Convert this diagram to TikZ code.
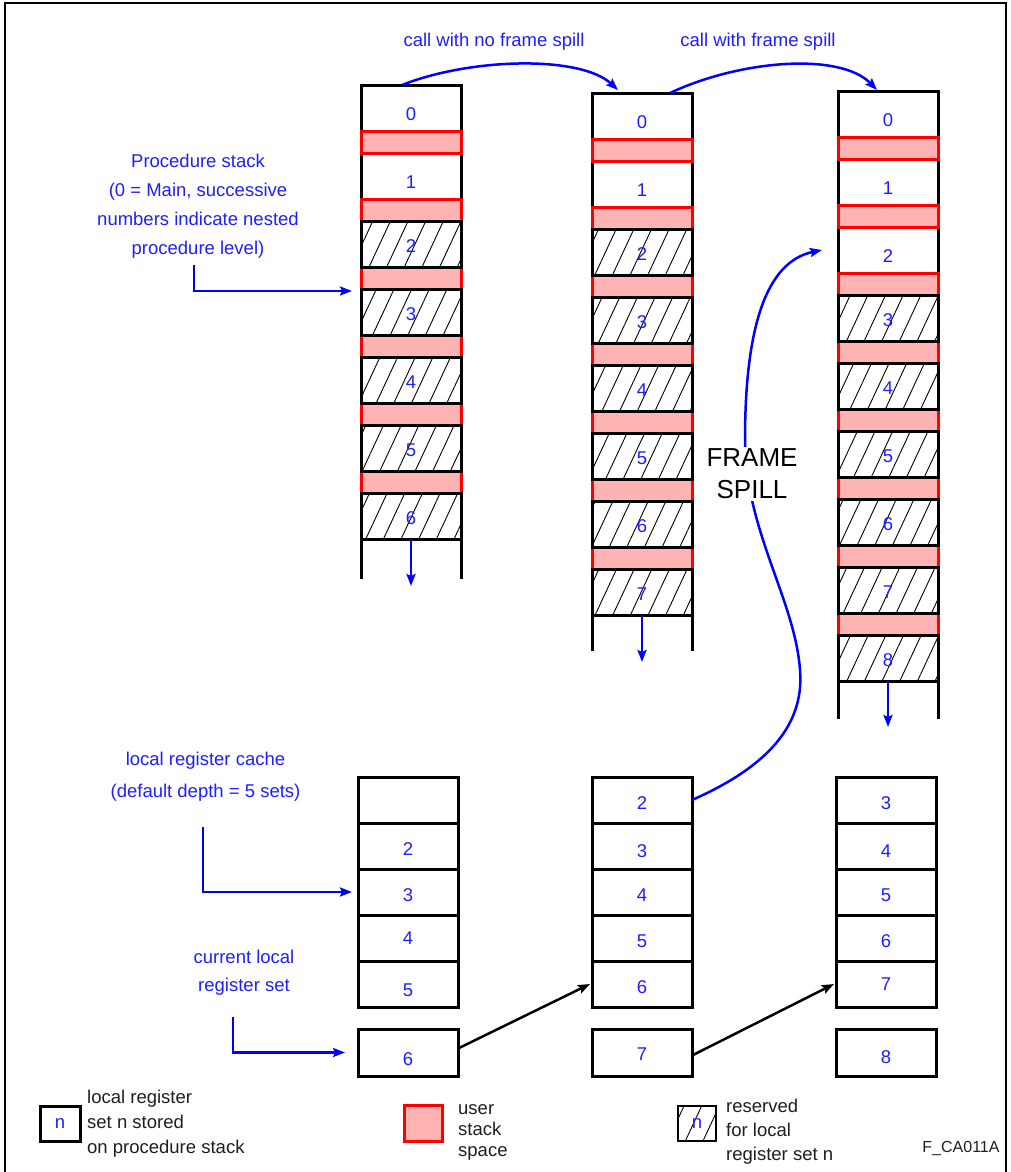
\documentclass[tikz,border=0pt]{standalone}
\usepackage{fontspec}
\setmainfont{Liberation Sans}
\usetikzlibrary{arrows.meta,patterns.meta,calc}
\definecolor{lblue}{RGB}{0,0,255}
\definecolor{tblue}{RGB}{30,30,255}
\definecolor{ustack}{RGB}{255,179,179}
\definecolor{ltxt}{RGB}{30,30,30}
\newcommand\drawstack[5]{%
  \foreach \k in {0,...,#5}{%
    \pgfmathsetmacro\yc{#3+68*\k+23}
    \node[box] (#1b\k) at (#2,\yc) {};
    \node[num] (#1n\k) at ([yshift=-6pt]#1b\k.center) {\k};
  }
  \foreach \k in {1,...,#4}{%
    \pgfmathsetmacro\yr{#3+68*\k-11}
    \node[rbox] (#1r\k) at (#2,\yr) {};
  }
  \pgfmathtruncatemacro\kstart{#5+1}
  \foreach \k in {\kstart,...,#4}{%
    \pgfmathsetmacro\yc{#3+68*\k+23}
    \node[hbox] (#1b\k) at (#2,\yc) {};
    \node[num] (#1n\k) at ([yshift=-2pt]#1b\k.center) {\k};
  }
}
\begin{document}
\begin{tikzpicture}[x=1pt,y=-1pt,
  box/.style={draw=black, line width=3pt, minimum width=100pt, minimum height=46pt, inner sep=0pt, outer sep=0pt},
  rbox/.style={draw=red, line width=3pt, fill=ustack, minimum width=100pt, minimum height=22pt, inner sep=0pt, outer sep=0pt},
  hbox/.style={box, pattern={Lines[angle=65,distance=16pt,line width=0.9pt]}},
  num/.style={text=tblue, font=\fontsize{18.5}{20}\selectfont, inner sep=0pt},
  tlabel/.style={text=tblue, align=center, inner sep=0pt},
  ltext/.style={text=ltxt, align=left, inner sep=0pt, anchor=west},
  barrow/.style={draw=lblue, line width=2.8pt, -{Stealth[length=12pt,width=9pt,inset=2pt]}},
  karrow/.style={draw=black, line width=2.5pt, -{Stealth[length=12pt,width=9pt,inset=2pt]}},
  side/.style={draw=black, line width=3pt}
]
\useasboundingbox (0,0) rectangle (1011,1172);
% frame
\draw[line width=2pt] (5,1172) -- (5,3.5) -- (1006,3.5) -- (1006,1172);

% procedure stacks
\drawstack{c1}{411}{85}{6}{1}
\drawstack{c2}{642}{93}{7}{1}
\drawstack{c3}{888}{91}{8}{2}

% open sides and downward arrows
\draw[side] (c1b6.south west) -- ++(0,40);
\draw[side] (c1b6.south east) -- ++(0,40);
\draw[barrow] (c1b6.south) -- ++(0,47);
\draw[side] (c2b7.south west) -- ++(0,36);
\draw[side] (c2b7.south east) -- ++(0,36);
\draw[barrow] (c2b7.south) -- ++(0,47);
\draw[side] (c3b8.south west) -- ++(0,38);
\draw[side] (c3b8.south east) -- ++(0,38);
\draw[barrow] (c3b8.south) -- ++(0,46);

% call arrows
\node[tlabel, font=\fontsize{18.5}{22}\selectfont] (call1) at (494,42) {call with no frame spill};
\node[tlabel, font=\fontsize{18.5}{22}\selectfont] (call2) at (758,42) {call with frame spill};
\draw[barrow, line width=2.5pt] ([xshift=-9pt]c1b0.north) .. controls (470,58) and (580,55) .. ([xshift=-24pt,yshift=3pt]c2b0.north);
\draw[barrow, line width=2.5pt] ([xshift=28pt]c2b0.north) .. controls (740,60) and (840,52) .. ([xshift=-11pt,yshift=1pt]c3b0.north);

% register cache stacks
\foreach \i/\t/\o in {0//3,1/2/3,2/3/3,3/4/0,4/5/6}{%
  \pgfmathsetmacro\yc{777+46*\i+23}
  \node[box] (r1b\i) at (408,\yc) {};
  \node[num] (r1n\i) at ([yshift={-\o*1pt}]r1b\i.center) {\t};
}
\foreach \i/\t/\o in {0/2/3,1/3/5,2/4/3,3/5/3,4/6/3}{%
  \pgfmathsetmacro\yc{777+46*\i+23}
  \node[box] (r2b\i) at (642,\yc) {};
  \node[num] (r2n\i) at ([yshift={-\o*1pt}]r2b\i.center) {\t};
}
\foreach \i/\t/\o in {0/3/3,1/4/5,2/5/3,3/6/3,4/7/0}{%
  \pgfmathsetmacro\yc{777+46*\i+23}
  \node[box] (r3b\i) at (886,\yc) {};
  \node[num] (r3n\i) at ([yshift={-\o*1pt}]r3b\i.center) {\t};
}
\node[box, minimum height=47pt] (r1c) at (408,1052.5) {};
\node[num] (r1cn) at ([yshift=-7pt]r1c.center) {6};
\node[box, minimum height=47pt] (r2c) at (642,1052.5) {};
\node[num] (r2cn) at ([yshift=-2pt]r2c.center) {7};
\node[box, minimum height=47pt] (r3c) at (886,1052.5) {};
\node[num] (r3cn) at ([yshift=-5pt]r3c.center) {8};

\draw[karrow] ([yshift=4pt]r1c.east) -- ([xshift=-2pt]r2b4.west);
\draw[karrow] ([yshift=-3pt]r2c.east) -- ([xshift=-2pt]r3b4.west);

% frame spill
\draw[barrow, line width=2.5pt] (r2b0.east) .. controls (760,770) and (805,730) .. (800,670)
   .. controls (795,600) and (745,530) .. (745,440)
   .. controls (745,330) and (765,262) .. ([xshift=-16pt]c3b2.west);
\node[fill=white, inner sep=2pt, align=center, font=\fontsize{26}{32}\selectfont] (fs) at (752,474) {FRAME\\SPILL};

% left annotations
\node[tlabel, font=\fontsize{18.5}{29}\selectfont] (psl) at (198,206) {Procedure stack\\(0 = Main, successive\\numbers indicate nested\\procedure level)};
\coordinate (psa) at (194,265);
\draw[barrow] (psa) |- ([xshift=-9pt,yshift=-2pt]c1b3.north west);

\node[tlabel, font=\fontsize{18.5}{32}\selectfont] (lrc) at (205.5,777) {local register cache\\(default depth = 5 sets)};
\coordinate (lrca) at (203,827);
\draw[barrow] (lrca) |- ([xshift=-6pt]r1b2.west);

\node[tlabel, font=\fontsize{18.5}{28}\selectfont] (cls) at (244,973) {current local\\register set};
\coordinate (clsa) at (233,1017);
\draw[barrow] (clsa) |- ([xshift=-13pt]r1c.west);

% legend
\node[box, minimum width=40pt, minimum height=35pt] (lgn) at (60,1123.5) {};
\node[num] (lgnn) at (lgn.center) {n};
\node[ltext, font=\fontsize{18.5}{25}\selectfont] (lgnt) at (87,1124) {local register\\set n stored\\on procedure stack};
\node[rbox, minimum width=38pt, minimum height=36pt] (lgr) at (423,1123.5) {};
\node[ltext, font=\fontsize{18.5}{21}\selectfont] (lgrt) at (458,1132) {user\\stack\\space};
\node[hbox, line width=2.5pt, minimum width=38pt, minimum height=35pt] (lgh) at (697,1123.5) {};
\node[num] (lghn) at (lgh.center) {n};
\node[ltext, font=\fontsize{18.5}{24}\selectfont] (lght) at (726,1132) {reserved\\for local\\register set n};
\node[text=ltxt, inner sep=0pt, font=\fontsize{16}{18}\selectfont] (fig) at (961,1148) {F\_CA011A};
\end{tikzpicture}
\end{document}
